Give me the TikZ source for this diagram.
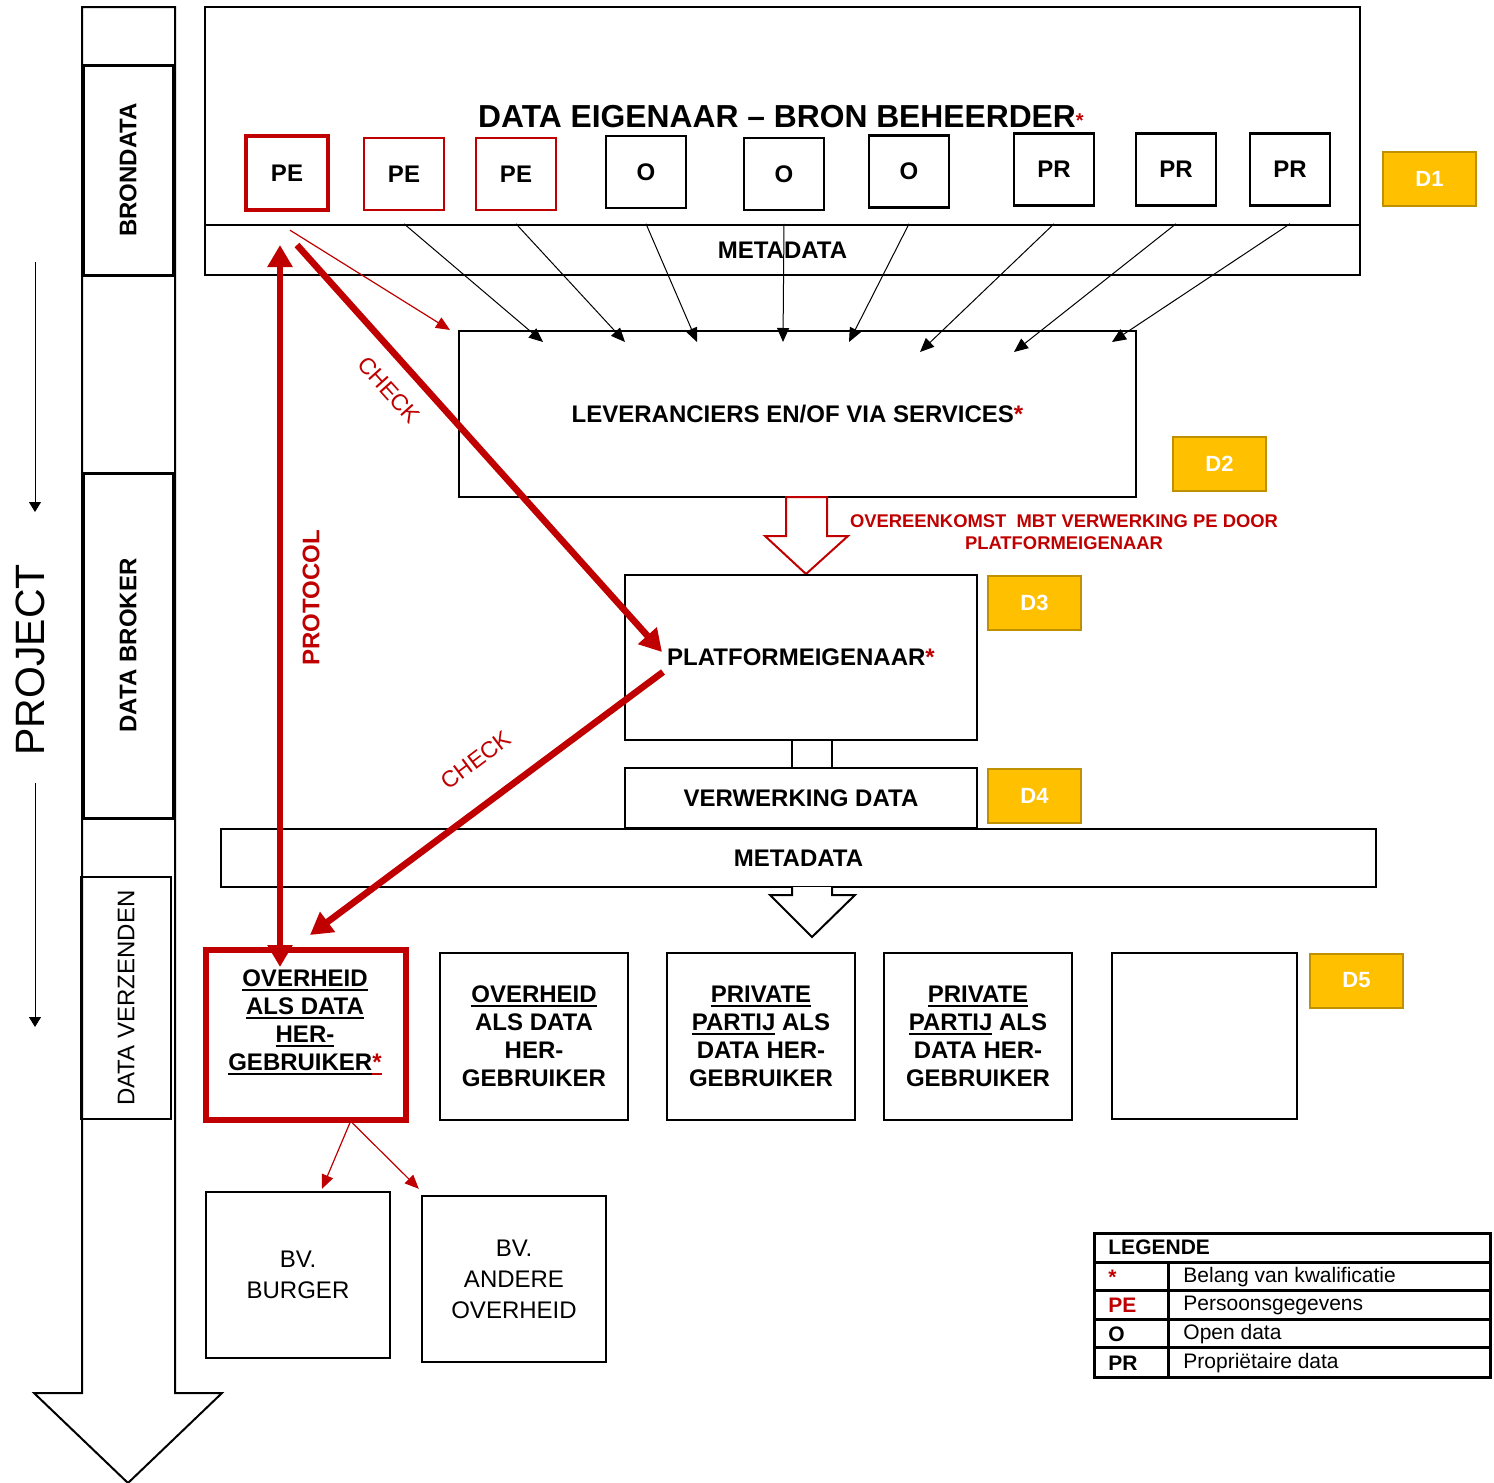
\documentclass[tikz,border=0pt]{standalone}
\usepackage{fontspec}
\setmainfont{Liberation Sans}
\usetikzlibrary{arrows.meta,positioning}
\definecolor{pered}{RGB}{192,0,0}
\definecolor{dfill}{RGB}{255,192,0}
\definecolor{dline}{RGB}{191,144,0}
\newsavebox\ulbox
\newcommand{\undl}[1]{\sbox\ulbox{#1}\rlap{\usebox\ulbox}\rule[-2.2pt]{\wd\ulbox}{0.9pt}}
\newcommand{\rst}{\textcolor{pered}{*}}

\begin{document}
\begin{tikzpicture}[x=0.5pt,y=-0.5pt,
    lbl/.style={font=\bfseries\fontsize{12}{14}\selectfont},
    box/.style={draw,line width=1.2pt,inner sep=0pt,align=center,lbl},
    src/.style={box,minimum width=40pt,minimum height=36pt},
    side/.style={box,rotate=90,minimum height=45pt,line width=1.5pt},
    dbox/.style={draw=dline,fill=dfill,line width=1pt,minimum width=46.5pt,minimum height=27pt,
      text=white,font=\bfseries\fontsize{11}{13}\selectfont},
    arrow/.style={-{Triangle[length=7pt,width=6pt]},line width=0.5pt},
    redthin/.style={-{Triangle[length=7pt,width=6pt]},line width=0.6pt,color=pered},
    redthick/.style={-{Triangle[length=11pt,width=12pt]},line width=3.3pt,color=pered},
    block/.style={line width=1pt,fill=white,line join=miter},
    leg/.style={anchor=west,inner sep=0pt,font=\fontsize{10.5}{12}\selectfont}
  ]
    \path[use as bounding box,fill=white] (0,0) rectangle (1494,1483);

    \draw[block] (82,7) -- (175,7) -- (175,1393) -- (222,1393) -- (128,1483)
      -- (34,1393) -- (82,1393) -- cycle;
    \node[side,minimum width=105pt] (bron) at (128,170) {BRONDATA};
    \node[side,minimum width=172.5pt] (broker) at (128,645.5) {DATA BROKER};
    \node[side,minimum width=121pt,line width=1pt,font=\fontsize{12}{14}\selectfont] (verz) at (126,998) {DATA VERZENDEN};
    \node[rotate=90,font=\fontsize{20.5}{24}\selectfont] (project) at (30,660) {PROJECT};
    \coordinate (pa) at (35,262);
    \coordinate (pb) at (35,512);
    \coordinate (pc) at (35,783);
    \coordinate (pd) at (35,1027);
    \draw[-{Triangle[length=5pt,width=6pt]},line width=0.5pt] (pa) -- (pb);
    \draw[-{Triangle[length=5pt,width=6pt]},line width=0.5pt] (pc) -- (pd);

    \node[draw,line width=1.2pt,minimum width=577.5pt,minimum height=109pt] (owner) at (782.5,116) {};
    \node[box,minimum width=577.5pt,minimum height=25pt] (meta1) at (782.5,250) {METADATA};
    \node[font=\bfseries\fontsize{15.9}{18}\selectfont] (title) at (781,117)
      {DATA EIGENAAR – BRON BEHEERDER\textcolor{pered}{\fontsize{10}{12}\selectfont*}};
    \node[src,draw=pered,line width=2.2pt,minimum width=41pt,minimum height=37pt] (pe1) at (287,173) {PE};
    \node[src,draw=pered] (pe2) at (404,174) {PE};
    \node[src,draw=pered] (pe3) at (516,174) {PE};
    \node[src] (o1) at (646,172) {O};
    \node[src] (o2) at (784,174) {O};
    \node[src] (o3) at (909,171.5) {O};
    \node[src] (pr1) at (1054,169.5) {PR};
    \node[src] (pr2) at (1176,169.5) {PR};
    \node[src] (pr3) at (1290,169.5) {PR};
    \node[dbox] (d1) at (1429.5,179) {D1};

    \node[box,minimum width=338.5pt,minimum height=83pt] (lev) at (797.5,414) {LEVERANCIERS EN/OF VIA SERVICES\rst};
    \node[dbox] (d2) at (1219.5,463.5) {D2};
    \foreach \s/\tx/\ty in {pe2/543/342,pe3/625/342,o1/697/342,o2/783/342,o3/849/342,pr1/920/352,pr2/1014/352,pr3/1112/342}
      \draw[arrow] (\s.south |- meta1.north) -- (\tx,\ty);
    \coordinate (levin) at (450,330);
    \draw[redthin] ([xshift=1.5pt,yshift=-9pt]pe1.south) -- (levin);

    \draw[block,draw=pered] (786,497) -- (786,536) -- (765,536) -- (806,574) -- (848,536) -- (827,536) -- (827,497) -- cycle;
    \node[text=pered,align=center,font=\bfseries\fontsize{9.2}{11}\selectfont] (agree) at (1064,532)
      {OVEREENKOMST\ \ MBT VERWERKING PE DOOR\\PLATFORMEIGENAAR};

    \node[box,minimum width=176pt,minimum height=82.5pt] (plat) at (801,657.5) {PLATFORMEIGENAAR\rst};
    \node[dbox] (d3) at (1034.5,603) {D3};
    \draw[line width=1pt] (792,740) rectangle (832,768);
    \node[box,minimum width=176pt,minimum height=30pt] (verw) at (801,798) {VERWERKING DATA};
    \node[dbox] (d4) at (1034.5,796) {D4};
    \node[box,minimum width=577.5pt,minimum height=29pt] (meta2) at (798.5,858) {METADATA};
    \draw[block] (792,887) -- (792,895) -- (770,895) -- (812,937) -- (855,895) -- (832,895) -- (832,887);

    \node[box,draw=pered,line width=2.6pt,minimum width=100pt,minimum height=85pt] (ov1) at (306,1035) {};
    \node[lbl,align=center] (ov1txt) at (305,1022)
      {\undl{OVERHEID}\\\undl{ALS DATA}\\\undl{HER-}\\\undl{GEBRUIKER}\textcolor{pered}{\undl{*}}};
    \node[box,minimum width=94pt,minimum height=83.5pt] (ov2) at (534,1036.5) {\undl{OVERHEID}\\ALS DATA\\HER-\\GEBRUIKER};
    \node[box,minimum width=94pt,minimum height=83.5pt] (pp1) at (761,1036.5) {\undl{PRIVATE}\\\undl{PARTIJ} ALS\\DATA HER-\\GEBRUIKER};
    \node[box,minimum width=94pt,minimum height=83.5pt] (pp2) at (978,1036.5) {\undl{PRIVATE}\\\undl{PARTIJ} ALS\\DATA HER-\\GEBRUIKER};
    \node[box,minimum width=92.5pt,minimum height=83pt] (spare) at (1204.5,1036) {};
    \node[dbox] (d5) at (1356.5,980.5) {D5};
    \node[box,font=\fontsize{12}{15.5}\selectfont,minimum width=92pt,minimum height=83pt] (burger) at (298,1275) {BV.\\BURGER};
    \node[box,font=\fontsize{12}{15.5}\selectfont,minimum width=92pt,minimum height=83pt] (andere) at (514,1279) {BV.\\ANDERE\\OVERHEID};
    \draw[redthin] ([xshift=22pt]ov1.south) -- ([xshift=12pt,yshift=1pt]burger.north);
    \draw[redthin] ([xshift=23pt]ov1.south) -- ([xshift=-1pt,yshift=3pt]andere.north west);

    \coordinate (protTop) at (280,245);
    \coordinate (protBot) at (280,967);
    \coordinate (chkA) at (297,245);
    \coordinate (chkB) at (662,652);
    \coordinate (chkC) at (663,672);
    \coordinate (chkD) at (310,935);
    \draw[redthick,{Triangle[length=11pt,width=12pt]}-{Triangle[length=11pt,width=12pt]}] (protTop) -- (protBot);
    \draw[redthick] (chkA) -- (chkB);
    \draw[redthick] (chkC) -- (chkD);
    \node[rotate=90,text=pered,lbl] (protlbl) at (311,598) {PROTOCOL};
    \node[rotate=-48,text=pered,font=\fontsize{11.5}{14}\selectfont] (chk1) at (389,390) {CHECK};
    \node[rotate=37,text=pered,font=\fontsize{11.5}{14}\selectfont] (chk2) at (476,760) {CHECK};

    \draw[line width=1.5pt] (1094,1233) rectangle (1490,1377);
    \foreach \yy in {1262,1290,1319,1347}
      \draw[line width=1.5pt] (1094,\yy) -- (1490,\yy);
    \draw[line width=1.5pt] (1168,1262) -- (1168,1377);
    \node[leg,font=\bfseries\fontsize{10.5}{12}\selectfont] (legend) at (1108,1247.5) {LEGENDE};
    \node[leg,text=pered,font=\bfseries\fontsize{10.5}{12}\selectfont] (k1) at (1108,1277) {*};
    \node[leg,text=pered,font=\bfseries\fontsize{10.5}{12}\selectfont] (k2) at (1108,1305.5) {PE};
    \node[leg,font=\bfseries\fontsize{10.5}{12}\selectfont] (k3) at (1108,1334) {O};
    \node[leg,font=\bfseries\fontsize{10.5}{12}\selectfont] (k4) at (1108,1363) {PR};
    \node[leg] (v1) at (1183,1277) {Belang van kwalificatie};
    \node[leg] (v2) at (1183,1305.5) {Persoonsgegevens};
    \node[leg] (v3) at (1183,1334) {Open data};
    \node[leg] (v4) at (1183,1363) {Propriëtaire data};
\end{tikzpicture}
\end{document}
